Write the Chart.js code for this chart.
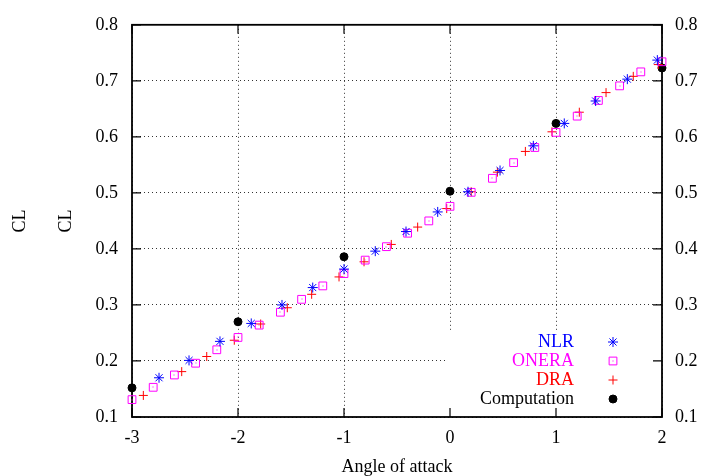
<!DOCTYPE html>
<html>
<head>
<meta charset="utf-8">
<script src="https://cdn.jsdelivr.net/npm/chart.js@4.4.0/dist/chart.umd.min.js"></script>
<style>
  html, body { margin: 0; padding: 0; background: #fff; }
  #wrap { width: 717px; height: 476px; }
</style>
</head>
<body>
<div id="wrap"><canvas id="cl"></canvas></div>
<script>
// ---- data ----
const compAlpha = [-3, -2, -1, 0, 1, 2];
const compCL    = [0.152, 0.270, 0.386, 0.503, 0.624, 0.723];

const nlrAlpha = [-2.745, -2.462, -2.170, -1.875, -1.585, -1.295, -1.000, -0.705, -0.415,
                  -0.116, 0.170, 0.472, 0.786, 1.078, 1.374, 1.673, 1.956];
const nlrCL    = [0.170, 0.201, 0.235, 0.267, 0.300, 0.331, 0.364, 0.396, 0.431,
                  0.466, 0.502, 0.540, 0.584, 0.624, 0.664, 0.703, 0.737];

const oneraAlpha = [-3.0, -2.8, -2.6, -2.4, -2.2, -2.0, -1.8, -1.6, -1.4, -1.2, -1.0, -0.8, -0.6,
                    -0.4, -0.2, 0.0, 0.2, 0.4, 0.6, 0.8, 1.0, 1.2, 1.4, 1.6, 1.8, 2.0];
const oneraCL    = [0.131, 0.153, 0.175, 0.196, 0.220, 0.242, 0.264, 0.287, 0.310, 0.334, 0.356, 0.380, 0.404,
                    0.428, 0.450, 0.476, 0.501, 0.526, 0.554, 0.581, 0.608, 0.637, 0.665, 0.691, 0.716, 0.734];

const draAlpha = [-2.893, -2.531, -2.295, -2.035, -1.786, -1.535, -1.305, -1.047, -0.811, -0.554,
                  -0.305, -0.031, 0.200, 0.447, 0.711, 0.962, 1.220, 1.472, 1.729, 1.965];
const draCL    = [0.1385, 0.181, 0.208, 0.237, 0.266, 0.295, 0.319, 0.350, 0.377, 0.408,
                  0.439, 0.472, 0.502, 0.537, 0.574, 0.609, 0.644, 0.679, 0.708, 0.729];

const xTicks = [-3, -2, -1, 0, 1, 2];
const yTicks = [0.1, 0.2, 0.3, 0.4, 0.5, 0.6, 0.7, 0.8];

const legendNames = ['NLR', 'ONERA', 'DRA', 'Computation'];

const FONT = 'Liberation Serif, Times New Roman, serif';

function pts(xs, ys) {
    return xs.map((x, i) => ({ x: x, y: ys[i] }));
}

// white box behind the key, frame and inward tick marks (gnuplot style)
const framePlugin = {
    id: 'frame',
    beforeDatasetsDraw(chart) {
        const { ctx, chartArea: a, scales } = chart;
        ctx.save();
        ctx.fillStyle = '#fff';
        ctx.fillRect(447, 332, a.right - 447, a.bottom - 332);

        ctx.strokeStyle = '#000';
        ctx.lineWidth = 1.2;
        const tl = 9;
        ctx.beginPath();
        xTicks.forEach(v => {
            const px = scales.x.getPixelForValue(v);
            ctx.moveTo(px, a.bottom); ctx.lineTo(px, a.bottom - tl);
            ctx.moveTo(px, a.top); ctx.lineTo(px, a.top + tl);
        });
        yTicks.forEach(v => {
            const py = scales.y.getPixelForValue(v);
            ctx.moveTo(a.left, py); ctx.lineTo(a.left + tl, py);
            ctx.moveTo(a.right, py); ctx.lineTo(a.right - tl, py);
        });
        ctx.stroke();
        ctx.lineWidth = 1.8;
        ctx.strokeRect(a.left, a.top, a.right - a.left, a.bottom - a.top);
        ctx.restore();
    },
    afterDatasetsDraw(chart) {
        const { ctx } = chart;
        ctx.save();

        // little centre dot inside each ONERA box
        ctx.fillStyle = '#ff00ff';
        chart.getDatasetMeta(1).data.forEach(el => {
            ctx.fillRect(Math.round(el.x) - 0.5, Math.round(el.y) - 0.5, 1, 1);
        });

        // key
        ctx.font = '18px ' + FONT;
        ctx.textAlign = 'right';
        ctx.textBaseline = 'middle';
        chart.data.datasets.forEach((ds, i) => {
            const yy = 342 + i * 19;
            ctx.fillStyle = ds.keyColor;
            ctx.fillText(legendNames[i], 574, yy);
            const st = {
                pointStyle: ds.pointStyle,
                radius: ds.pointRadius,
                borderWidth: ds.borderWidth,
                rotation: 0
            };
            ctx.strokeStyle = ds.borderColor;
            ctx.fillStyle = ds.pointBackgroundColor;
            ctx.lineWidth = ds.borderWidth;
            Chart.helpers.drawPoint(ctx, st, 613, yy);
            if (i === 1) {
                ctx.fillStyle = '#ff00ff';
                ctx.fillRect(612.5, yy - 0.5, 1, 1);
            }
        });
        ctx.restore();
    }
};

const ctx = document.getElementById('cl').getContext('2d');
const chart = new Chart(ctx, {
    type: 'scatter',
    data: {
        datasets: [{
            label: 'NLR',
            data: pts(nlrAlpha, nlrCL),
            pointStyle: 'star',
            pointRadius: 5,
            borderWidth: 1,
            borderColor: '#0000ff',
            pointBackgroundColor: 'rgba(0,0,0,0)',
            keyColor: '#0000ff',
            clip: false
        }, {
            label: 'ONERA',
            data: pts(oneraAlpha, oneraCL),
            pointStyle: 'rect',
            pointRadius: 5.5,
            borderWidth: 1,
            borderColor: '#ff00ff',
            pointBackgroundColor: 'rgba(0,0,0,0)',
            keyColor: '#ff00ff',
            clip: false
        }, {
            label: 'DRA',
            data: pts(draAlpha, draCL),
            pointStyle: 'cross',
            pointRadius: 4.5,
            borderWidth: 1,
            borderColor: '#ff0000',
            pointBackgroundColor: 'rgba(0,0,0,0)',
            keyColor: '#ff0000',
            clip: false
        }, {
            label: 'Computation',
            data: pts(compAlpha, compCL),
            pointStyle: 'circle',
            pointRadius: 4,
            borderWidth: 1,
            borderColor: '#000',
            pointBackgroundColor: '#000',
            keyColor: '#000',
            clip: false
        }]
    },
    options: {
        responsive: true,
        maintainAspectRatio: false,
        animation: false,
        layout: { padding: { top: 17, left: 0, right: 0, bottom: 0 } },
        plugins: {
            legend: { display: false },
            tooltip: { enabled: false }
        },
        scales: {
            x: {
                type: 'linear',
                position: 'bottom',
                min: -3, max: 2,
                afterBuildTicks: s => { s.ticks = xTicks.map(v => ({ value: v })); },
                afterFit: s => { s.height = 59; },
                ticks: { color: '#000', font: { family: FONT, size: 18 }, padding: 10 },
                grid: { color: '#333', lineWidth: 1, drawTicks: false },
                border: { display: false, dash: [1, 3] },
                title: { display: true, text: 'Angle of attack', color: '#000',
                         font: { family: FONT, size: 18 }, padding: { top: 0, bottom: -2 } }
            },
            yOuter: {
                type: 'linear',
                position: 'left',
                weight: 10,
                min: 0.1, max: 0.8,
                afterFit: s => { s.width = 40; },
                ticks: { display: false },
                grid: { display: false, drawTicks: false },
                border: { display: false },
                title: { display: true, text: 'CL', color: '#000',
                         font: { family: FONT, size: 18 }, padding: { top: 9, bottom: 0 } }
            },
            y: {
                type: 'linear',
                position: 'left',
                weight: 0,
                min: 0.1, max: 0.8,
                afterBuildTicks: s => { s.ticks = yTicks.map(v => ({ value: v })); },
                afterFit: s => { s.width = 92; },
                ticks: { color: '#000', font: { family: FONT, size: 18 }, padding: 14,
                         callback: v => v.toFixed(1) },
                grid: { color: '#333', lineWidth: 1, drawTicks: false },
                border: { display: false, dash: [1, 3] },
                title: { display: true, text: 'CL', color: '#000',
                         font: { family: FONT, size: 18 }, padding: { top: 15, bottom: 0 } }
            },
            y2: {
                type: 'linear',
                position: 'right',
                min: 0.1, max: 0.8,
                afterBuildTicks: s => { s.ticks = yTicks.map(v => ({ value: v })); },
                afterFit: s => { s.width = 55; },
                ticks: { color: '#000', font: { family: FONT, size: 18 }, padding: 13,
                         callback: v => v.toFixed(1) },
                grid: { display: false, drawTicks: false },
                border: { display: false }
            }
        }
    },
    plugins: [framePlugin]
});
</script>
</body>
</html>
